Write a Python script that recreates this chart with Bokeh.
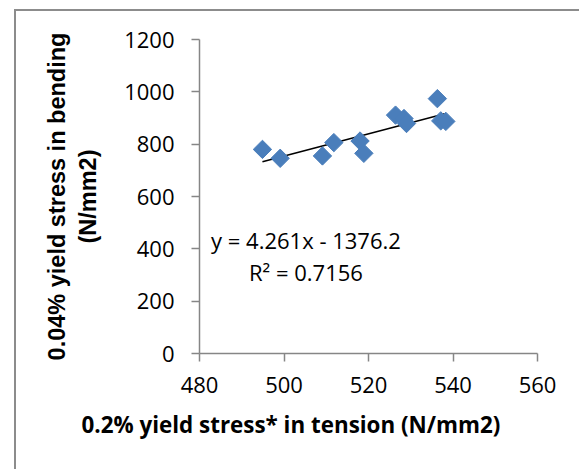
import numpy as np
from bokeh.plotting import figure
from bokeh.models import Range1d, FixedTicker, Label, ColumnDataSource, Title
from bokeh.embed import file_html
from bokeh.resources import INLINE

# data
tension = [494.9, 499.1, 509.1, 511.8, 518.0, 518.9, 526.4, 528.4, 529.0, 536.3, 537.1, 538.3]
bending = [780, 746, 755, 806, 812, 765, 911, 898, 879, 974, 889, 887]
slope = 4.261
intercept = -1376.2
r_squared = 0.7156
x_ticks = [480, 500, 520, 540, 560]
y_ticks = [0, 200, 400, 600, 800, 1000, 1200]
x_title = "0.2% yield stress* in tension (N/mm2)"
y_title = "0.04% yield stress in bending\n(N/mm2)"

AXIS_COLOR = "#868686"
MARKER_COLOR = "#4a7ebb"
TICK_FONT = "Open Sans"

p = figure(width=565, height=460, output_backend="svg", toolbar_location=None,
           x_range=Range1d(480, 560), y_range=Range1d(0, 1200),
           min_border_left=183, min_border_right=44, min_border_top=28,
           min_border_bottom=118)
p.margin = (9, 0, 0, 14)
p.styles = {"border-left": "2px solid #8c8c8c", "border-top": "2px solid #8c8c8c"}
p.background_fill_color = "white"
p.border_fill_color = "white"
p.outline_line_color = None
p.grid.visible = False

for ax in (p.xaxis[0], p.yaxis[0]):
    ax.axis_line_color = AXIS_COLOR
    ax.axis_line_width = 1.5
    ax.major_tick_line_color = AXIS_COLOR
    ax.major_tick_line_width = 1.5
    ax.major_tick_out = 8
    ax.major_tick_in = 0
    ax.minor_tick_line_color = None
    ax.major_label_text_font = TICK_FONT
    ax.major_label_text_font_size = "22px"
    ax.major_label_text_color = "black"
    ax.axis_label_text_color = "black"
    ax.axis_label_text_font_style = "bold"

p.xaxis.ticker = FixedTicker(ticks=x_ticks)
p.yaxis.ticker = FixedTicker(ticks=y_ticks)
p.xaxis.major_label_standoff = 15
p.yaxis.major_label_standoff = 17

p.yaxis.axis_label = y_title
p.yaxis.axis_label_text_font = "Liberation Sans"
p.yaxis.axis_label_text_font_size = "23.5px"
p.yaxis.axis_label_standoff = 20

# trend line from the fitted equation, spanning the data's x range
xs = np.array([min(tension), max(tension)])
ys = slope * xs + intercept
p.line(xs, ys, line_color="black", line_width=1.5)

src = ColumnDataSource(dict(x=tension, y=bending))
p.scatter("x", "y", source=src, marker="square", size=13, angle=np.pi / 4,
          fill_color=MARKER_COLOR, line_color=MARKER_COLOR)

eq1 = "y = %.3fx - %.1f" % (slope, -intercept)
eq2 = "R\u00b2 = %.4f" % r_squared
p.add_layout(Label(x=505.2, y=432, text=eq1, text_align="center", text_baseline="middle",
                   text_font=TICK_FONT, text_font_size="22px", text_color="black"))
p.add_layout(Label(x=505.2, y=311, text=eq2, text_align="center", text_baseline="middle",
                   text_font=TICK_FONT, text_font_size="22px", text_color="black"))

# x-axis title, placed as in the reference (left of the plot frame's centre)
p.add_layout(Title(text=x_title, align="left", offset=-118, standoff=22,
                   text_font=TICK_FONT, text_font_size="22.4px", text_font_style="bold",
                   text_color="black"), "below")

open("out.html", "w").write(file_html(p, INLINE))
